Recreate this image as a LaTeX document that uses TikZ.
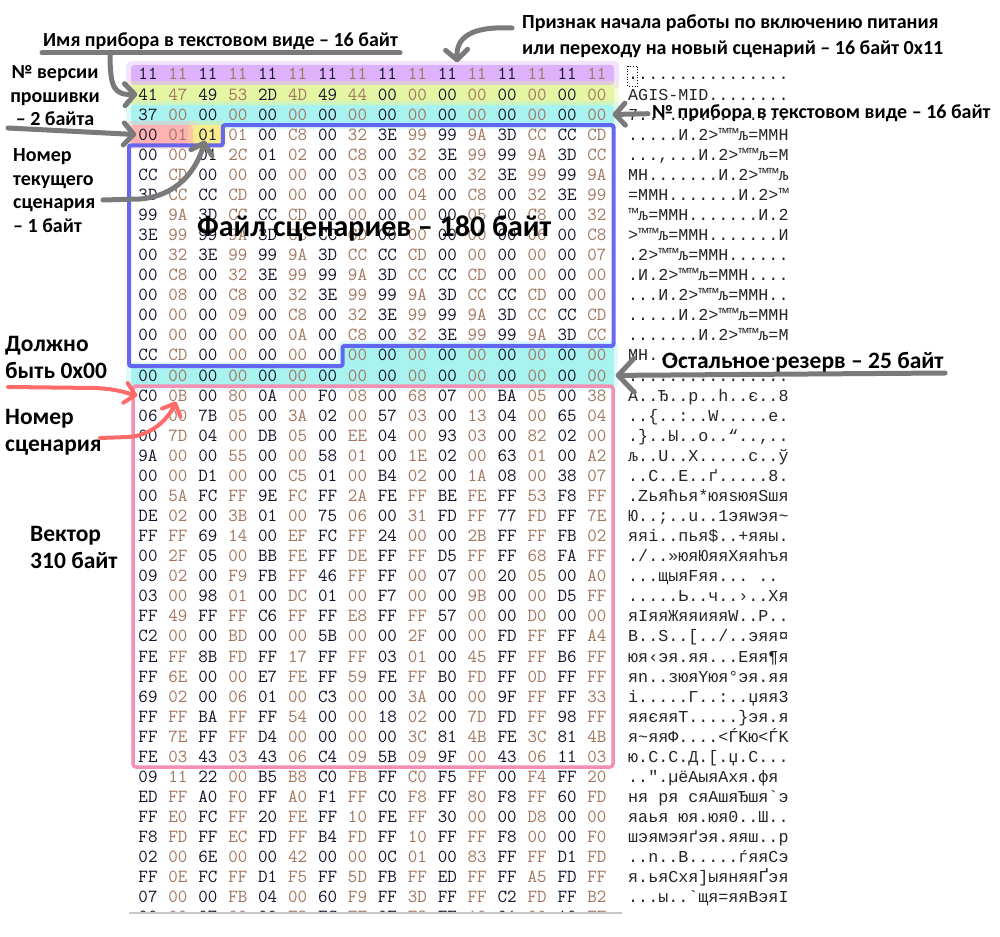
\documentclass[tikz,border=0pt]{standalone}
\usepackage{fontspec}
\newfontfamily\lblfont{Carlito}
\newfontfamily\ascfont{Liberation Mono}
\usetikzlibrary{arrows.meta, calc}
\definecolor{hexeven}{HTML}{14142E}
\definecolor{hexodd}{HTML}{A0765F}
\definecolor{hlviolet}{HTML}{DDB2FA}
\definecolor{hllime}{HTML}{E6F5A2}
\definecolor{hlcyan}{HTML}{A8F3EF}
\definecolor{hlrose}{HTML}{FFB2B2}
\definecolor{hlgold}{HTML}{F6EC8C}
\definecolor{filebox}{HTML}{5858F2}
\definecolor{vecbox}{HTML}{F490B4}
\definecolor{penline}{HTML}{7A7A7A}
\definecolor{redpen}{HTML}{FF6A6A}

% one dump line: row, bytes, text column
\newcommand\hexrow[3]{%
  \foreach \b [count=\c from 0] in {#2} {
    \ifodd\c\relax \def\hc{hexodd}\else \def\hc{hexeven}\fi
    \node[hexbyte, text=\hc] (h-#1-\c) at ({148+29.93*\c}, {80+20.07*#1}) {\b};
  }
  \node[ascii] (a-#1) at (628, {80+20.07*#1}) {#3};
}
% soft highlighter band
\newcommand\glowband[5]{%
  \fill[#1, opacity=.35, rounded corners=6pt] (#2-5, #3-4) rectangle (#4+5, #5+4);
  \fill[#1, rounded corners=3pt] (#2, #3) rectangle (#4, #5);
}

\begin{document}
\begin{tikzpicture}[
    x=1pt, y=-1pt,
    hexbyte/.style={font=\ttfamily\fontsize{18.5}{20}\selectfont, anchor=base, inner sep=0pt},
    ascii/.style={font=\ascfont\fontsize{16.7}{20}\selectfont, anchor=base west, inner sep=0pt, text=black!85},
    lbl/.style={font=\lblfont\bfseries\fontsize{20}{23.5}\selectfont, align=left, inner sep=0pt, anchor=base west, text=black},
    biglbl/.style={lbl, font=\lblfont\bfseries\fontsize{23.5}{27}\selectfont},
    pen/.style={draw=penline, line width=5pt, line cap=round, -{Straight Barb[length=10pt, width=22pt, round]}},
    bigpen/.style={pen, -{Straight Barb[length=16pt, width=34pt, round]}},
    redarrow/.style={draw=redpen, line width=4pt, line cap=round, -{Straight Barb[length=10pt, width=20pt, round]}}
  ]
  \fill[white] (0,0) rectangle (1000,936);
  \useasboundingbox (0,0) rectangle (1000,936);

  % highlighted header fields
  \glowband{hlviolet}{131}{65}{614}{85}
  \glowband{hllime}{131}{85}{614}{105}
  \glowband{hlcyan}{131}{105}{614}{125}
  \glowband{hlrose}{131}{125}{193}{145}
  \glowband{hlgold}{193}{125}{222}{145}
  % reserve area
  \fill[hlcyan, opacity=.35, rounded corners=6pt] (338,341) -- (618,341) -- (618,390) -- (126,390) -- (126,362) -- (338,362) -- cycle;
  \fill[hlcyan, rounded corners=2pt] (342.5,346) -- (614,346) -- (614,386) -- (131,386) -- (131,366) -- (342.5,366) -- cycle;

  \begin{scope}
    \clip (0,0) rectangle (1000,912);
    \hexrow{0}{11,11,11,11,11,11,11,11,11,11,11,11,11,11,11,11}{................}
    \hexrow{1}{41,47,49,53,2D,4D,49,44,00,00,00,00,00,00,00,00}{AGIS-MID........}
    \hexrow{2}{37,00,00,00,00,00,00,00,00,00,00,00,00,00,00,00}{7...............}
    \hexrow{3}{00,01,01,01,00,C8,00,32,3E,99,99,9A,3D,CC,CC,CD}{.....И.2>™™љ=ММН}
    \hexrow{4}{00,00,01,2C,01,02,00,C8,00,32,3E,99,99,9A,3D,CC}{...,...И.2>™™љ=М}
    \hexrow{5}{CC,CD,00,00,00,00,00,03,00,C8,00,32,3E,99,99,9A}{МН.......И.2>™™љ}
    \hexrow{6}{3D,CC,CC,CD,00,00,00,00,00,04,00,C8,00,32,3E,99}{=ММН.......И.2>™}
    \hexrow{7}{99,9A,3D,CC,CC,CD,00,00,00,00,00,05,00,C8,00,32}{™љ=ММН.......И.2}
    \hexrow{8}{3E,99,99,9A,3D,CC,CC,CD,00,00,00,00,00,06,00,C8}{>™™љ=ММН.......И}
    \hexrow{9}{00,32,3E,99,99,9A,3D,CC,CC,CD,00,00,00,00,00,07}{.2>™™љ=ММН......}
    \hexrow{10}{00,C8,00,32,3E,99,99,9A,3D,CC,CC,CD,00,00,00,00}{.И.2>™™љ=ММН....}
    \hexrow{11}{00,08,00,C8,00,32,3E,99,99,9A,3D,CC,CC,CD,00,00}{...И.2>™™љ=ММН..}
    \hexrow{12}{00,00,00,09,00,C8,00,32,3E,99,99,9A,3D,CC,CC,CD}{.....И.2>™™љ=ММН}
    \hexrow{13}{00,00,00,00,00,0A,00,C8,00,32,3E,99,99,9A,3D,CC}{.......И.2>™™љ=М}
    \hexrow{14}{CC,CD,00,00,00,00,00,00,00,00,00,00,00,00,00,00}{МН..............}
    \hexrow{15}{00,00,00,00,00,00,00,00,00,00,00,00,00,00,00,00}{................}
    \hexrow{16}{C0,0B,00,80,0A,00,F0,08,00,68,07,00,BA,05,00,38}{А..Ђ..р..h..є..8}
    \hexrow{17}{06,00,7B,05,00,3A,02,00,57,03,00,13,04,00,65,04}{..\{..:..W.....e.}
    \hexrow{18}{00,7D,04,00,DB,05,00,EE,04,00,93,03,00,82,02,00}{.\}..Ы..о..“..‚..}
    \hexrow{19}{9A,00,00,55,00,00,58,01,00,1E,02,00,63,01,00,A2}{љ..U..X.....c..ў}
    \hexrow{20}{00,00,D1,00,00,C5,01,00,B4,02,00,1A,08,00,38,07}{..С..Е..ґ.....8.}
    \hexrow{21}{00,5A,FC,FF,9E,FC,FF,2A,FE,FF,BE,FE,FF,53,F8,FF}{.Zьяћья*юяѕюяSшя}
    \hexrow{22}{DE,02,00,3B,01,00,75,06,00,31,FD,FF,77,FD,FF,7E}{Ю..;..u..1эяwэя\textasciitilde}
    \hexrow{23}{FF,FF,69,14,00,EF,FC,FF,24,00,00,2B,FF,FF,FB,02}{яяi..пья\$..+яяы.}
    \hexrow{24}{00,2F,05,00,BB,FE,FF,DE,FF,FF,D5,FF,FF,68,FA,FF}{./..»юяЮяяХяяhъя}
    \hexrow{25}{09,02,00,F9,FB,FF,46,FF,FF,00,07,00,20,05,00,A0}{...щыяFяя...~..}
    \hexrow{26}{03,00,98,01,00,DC,01,00,F7,00,00,9B,00,00,D5,FF}{.....Ь..ч..›..Хя}
    \hexrow{27}{FF,49,FF,FF,C6,FF,FF,E8,FF,FF,57,00,00,D0,00,00}{яIяяЖяяияяW..Р..}
    \hexrow{28}{C2,00,00,BD,00,00,5B,00,00,2F,00,00,FD,FF,FF,A4}{В..Ѕ..[../..эяя¤}
    \hexrow{29}{FE,FF,8B,FD,FF,17,FF,FF,03,01,00,45,FF,FF,B6,FF}{юя‹эя.яя...Eяя¶я}
    \hexrow{30}{FF,6E,00,00,E7,FE,FF,59,FE,FF,B0,FD,FF,0D,FF,FF}{яn..зюяYюя°эя.яя}
    \hexrow{31}{69,02,00,06,01,00,C3,00,00,3A,00,00,9F,FF,FF,33}{i.....Г..:..џяя3}
    \hexrow{32}{FF,FF,BA,FF,FF,54,00,00,18,02,00,7D,FD,FF,98,FF}{яяєяяT.....\}эя.я}
    \hexrow{33}{FF,7E,FF,FF,D4,00,00,00,00,3C,81,4B,FE,3C,81,4B}{я\textasciitilde яяФ....<ЃKю<ЃK}
    \hexrow{34}{FE,03,43,03,43,06,C4,09,5B,09,9F,00,43,06,11,03}{ю.C.C.Д.[.џ.C...}
    \hexrow{35}{09,11,22,00,B5,B8,C0,FB,FF,C0,F5,FF,00,F4,FF,20}{..".µёАыяАхя.фя}
    \hexrow{36}{ED,FF,A0,F0,FF,A0,F1,FF,C0,F8,FF,80,F8,FF,60,FD}{ня~ря~сяАшяЂшя`э}
    \hexrow{37}{FF,E0,FC,FF,20,FE,FF,10,FE,FF,30,00,00,D8,00,00}{яаья~юя.юя0..Ш..}
    \hexrow{38}{F8,FD,FF,EC,FD,FF,B4,FD,FF,10,FF,FF,F8,00,00,F0}{шэямэяґэя.яяш..р}
    \hexrow{39}{02,00,6E,00,00,42,00,00,0C,01,00,83,FF,FF,D1,FD}{..n..B.....ѓяяСэ}
    \hexrow{40}{FF,0E,FC,FF,D1,F5,FF,5D,FB,FF,ED,FF,FF,A5,FD,FF}{я.ьяСхя]ыяняяҐэя}
    \hexrow{41}{07,00,00,FB,04,00,60,F9,FF,3D,FF,FF,C2,FD,FF,B2}{...ы..`щя=яяВэяІ}
    \hexrow{42}{00,00,07,00,00,F8,FC,FF,0F,F8,FF,10,01,00,10,FF}{.....шья.шя....я}
  \end{scope}
  \draw[black!22, line width=1.2pt] (129,913) -- (622,913);
  \draw[dotted, line width=.7pt] (627.5,66) rectangle (637.5,86);

  % scenario file and vector frames
  \draw[filebox, line width=4pt, rounded corners=2pt, opacity=.9]
    (222.8,125.2) -- (613.5,125.2) -- (613.5,345.9) -- (342.5,345.9) -- (342.5,366)
    -- (129,366) -- (129,145.3) -- (222.8,145.3) -- cycle;
  \draw[vecbox, line width=3.5pt, rounded corners=3pt] (133,386) rectangle (613,767);

  % labels (multi-line ones sit on their last baseline)
  \node[lbl] (nameLbl) at (43,47) {Имя прибора в текстовом виде – 16 байт};
  \node[lbl, font=\lblfont\bfseries\fontsize{20}{26}\selectfont] (flagLbl) at (522,55)
    {Признак начала работы по включению питания\\или переходу на новый сценарий – 16 байт 0x11};
  \node[lbl, align=center, anchor=base] (verLbl) at (55,126) {№ версии\\прошивки\\– 2 байта};
  \node[lbl] (numLbl) at (652,119) {№ прибора в текстовом виде – 16 байт};
  \node[lbl] (curLbl) at (13,232) {Номер\\текущего\\сценария\\– 1 байт};
  \node[biglbl] (zeroLbl) at (5,378) {Должно\\быть 0x00};
  \node[biglbl] (scnLbl) at (5,451) {Номер\\сценария};
  \node[biglbl] (vecLbl) at (30,568) {Вектор\\310 байт};

  % connectors
  \draw[penline, line width=5pt, line cap=round]
    ([xshift=-1pt, yshift=-6pt]nameLbl.base west) -- ([xshift=2pt, yshift=-6pt]nameLbl.base east);
  \coordinate (nameKnee) at (110,53);
  \draw[pen] (nameKnee) .. controls (110,88) and (114,95) .. ([xshift=-1pt]h-1-0.west);
  \coordinate (flagTail) at (512,28);
  \draw[pen] (flagTail) .. controls (470,26) and (456,38) .. ($(h-0-10.north)!.33!(h-0-11.north)+(0,-6)$);
  \coordinate (verTail) at (8,128);
  \draw[pen] (verTail) -- ([xshift=-2pt]h-3-0.west);
  \coordinate (curTail) at (103,200);
  \draw[pen] (curTail) -- (140,199) .. controls (176,196) and (196,172) .. ([xshift=-3pt]h-3-2.south);
  \draw[pen] ([xshift=-4pt]numLbl.west) -- ([xshift=6pt]h-2-15.east);
  \coordinate (resTail) at (945,373);
  \draw[bigpen] (resTail) -- ([xshift=9pt]h-15-15.east);
  \coordinate (zeroTail) at (8,387);
  \draw[redarrow] (zeroTail) -- (95,388) .. controls (118,389) and (126,393) .. ([xshift=-1pt]h-16-0.west);
  \coordinate (scnTail) at (100,438);
  \draw[redarrow] (scnTail) -- (128,437) .. controls (150,436) and (168,420) .. ([xshift=-2pt]h-16-1.south);

  \node[lbl, font=\lblfont\bfseries\fontsize{30}{34}\selectfont] (fileLbl) at (197,236) {Файл сценариев – 180 байт};
  \node[biglbl] (resLbl) at (662,368) {Остальное резерв – 25 байт};
\end{tikzpicture}
\end{document}
